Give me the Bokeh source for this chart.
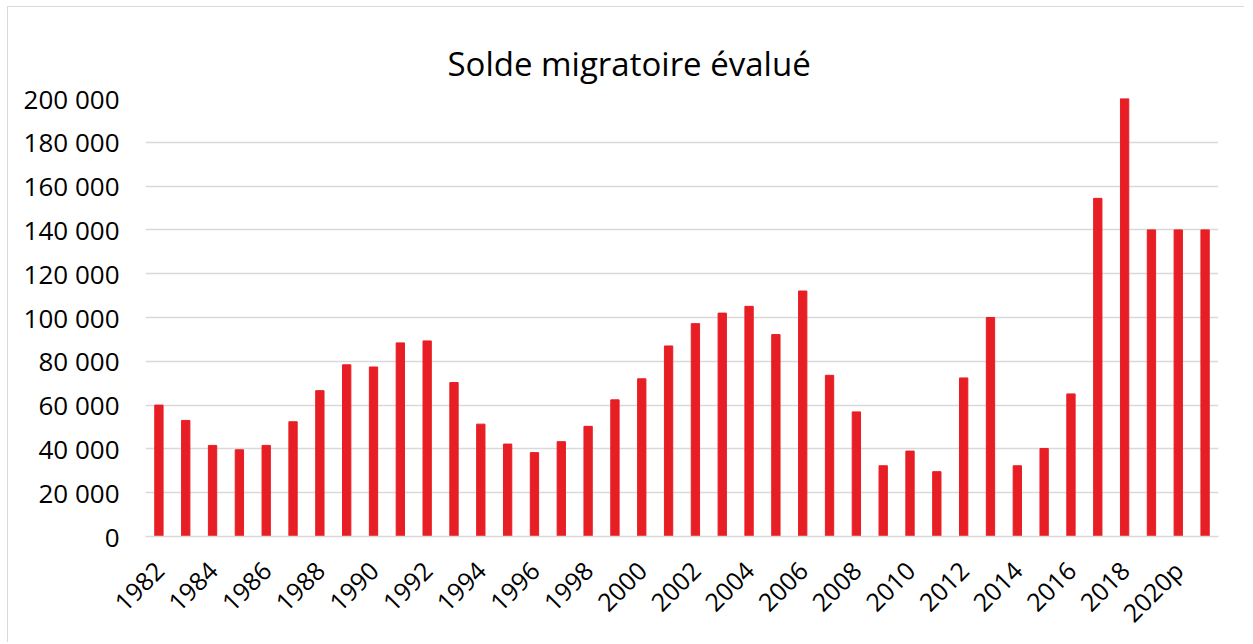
from bokeh.plotting import figure
from bokeh.models import Range1d, FixedTicker, Title
from bokeh.embed import file_html
from bokeh.resources import INLINE

# ---- data ----
categories = [str(y) for y in range(1982, 2020)] + ["2020p", "2021p"]
values = [60000, 53000, 41600, 39600, 41600, 52400, 66600, 78400, 77400, 88400,
          89300, 70300, 51300, 42200, 38300, 43300, 50300, 62400, 72000, 87000,
          97200, 102000, 105100, 92200, 112100, 73600, 56900, 32300, 39000, 29600,
          72400, 100000, 32300, 40200, 65100, 154400, 200000, 140000, 140000, 140000]
y_ticks = [0, 20000, 40000, 60000, 80000, 100000, 120000, 140000, 160000, 180000, 200000]
title_text = "Solde migratoire évalué"

FONT = "Open Sans"
idx = list(range(len(categories)))

W, H = 1237, 636
p = figure(width=W, height=H, output_backend="svg", toolbar_location=None,
           x_range=Range1d(-0.5, len(categories) - 0.5), y_range=Range1d(0, 200000),
           min_border_left=137, min_border_right=27, min_border_top=90, min_border_bottom=106)
p.styles = {"margin-left": "7px", "margin-top": "6px",
            "border-top": "1px solid #d9d9d9", "border-left": "1px solid #d9d9d9"}

# spacer (closest to the frame) followed by the real title
p.title.text = " "
p.title.text_font_size = "2px"
p.title.standoff = 14
p.add_layout(Title(text=title_text, align="left", offset=302, standoff=26,
                   text_font=FONT, text_font_size="33px", text_font_style="normal",
                   text_color="#000000"), "above")

p.vbar(x=idx, top=values, width=0.31, bottom=0, color="#E81E25")

p.outline_line_color = None
p.xgrid.visible = False
p.ygrid.grid_line_color = "#d9d9d9"
p.ygrid.grid_line_width = 1.5

# x axis
p.xaxis.ticker = FixedTicker(ticks=idx[::2])
p.xaxis.major_label_overrides = {i: categories[i] for i in idx}
p.xaxis.major_label_orientation = 0.785398
p.xaxis.axis_line_color = "#d9d9d9"
p.xaxis.axis_line_width = 1.5
p.xaxis.major_tick_line_color = None
p.xaxis.minor_tick_line_color = None
p.xaxis.major_tick_out = 0
p.xaxis.major_tick_in = 0
p.xaxis.major_label_text_font = FONT
p.xaxis.major_label_text_font_size = "25px"
p.xaxis.major_label_text_color = "#000000"
p.xaxis.major_label_standoff = 29

# y axis
p.yaxis.ticker = FixedTicker(ticks=y_ticks)
p.yaxis.major_label_overrides = {v: f"{v:,}".replace(",", " ") for v in y_ticks}
p.yaxis.axis_line_color = None
p.yaxis.major_tick_line_color = None
p.yaxis.minor_tick_line_color = None
p.yaxis.major_tick_out = 0
p.yaxis.major_tick_in = 0
p.yaxis.major_label_text_font = FONT
p.yaxis.major_label_text_font_size = "26px"
p.yaxis.major_label_text_color = "#000000"
p.yaxis.major_label_standoff = 26

open("out.html", "w").write(file_html(p, INLINE))
